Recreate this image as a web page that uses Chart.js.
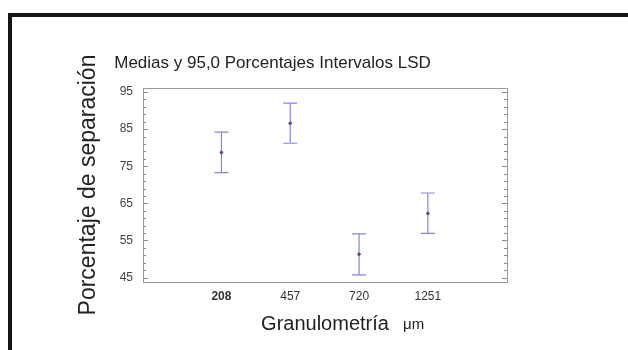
<!DOCTYPE html>
<html>
<head>
<meta charset="utf-8">
<script src="https://cdn.jsdelivr.net/npm/chart.js@4/dist/chart.umd.min.js"></script>
<style>
  body { margin: 0; background: #fff; }
  #wrap { position: relative; width: 628px; height: 350px; overflow: hidden; }
  #frame { position: absolute; left: 8px; top: 13px; width: 640px; height: 360px;
           border-top: 4px solid #151515; border-left: 4px solid #151515; }
  canvas { position: absolute; left: 0; top: 0; }
</style>
</head>
<body>
<div id="wrap">
  <div id="frame"></div>
  <canvas id="lsdChart" width="628" height="350"></canvas>
</div>
<script>
const categories = ['208', '457', '720', '1251'];
const means = [78.7, 86.6, 51.3, 62.3];
const lower = [73.3, 81.2, 45.7, 56.9];
const upper = [84.2, 92.0, 56.8, 67.8];
const yTicks = [45, 55, 65, 75, 85, 95];
const yMinorTicks = [47, 49, 51, 53, 57, 59, 61, 63, 67, 69, 71, 73, 77, 79, 81, 83, 87, 89, 91, 93];

const barColor = '#8585e6';
const font = 'Liberation Sans, Arial, sans-serif';

// error bars from lower/upper through the scales
const errorBars = {
    id: 'errorBars',
    beforeDatasetsDraw(chart) {
        let ctx = chart.ctx;
        let xs = chart.scales.x;
        let ys = chart.scales.y;
        ctx.save();
        ctx.strokeStyle = barColor;
        ctx.lineWidth = 1.2;
        for (let i = 0; i < categories.length; i++) {
            let x = xs.getPixelForValue(i);
            let yLo = ys.getPixelForValue(lower[i]);
            let yHi = ys.getPixelForValue(upper[i]);
            ctx.beginPath();
            ctx.moveTo(x, yLo);
            ctx.lineTo(x, yHi);
            ctx.moveTo(x - 7, yLo);
            ctx.lineTo(x + 7, yLo);
            ctx.moveTo(x - 7, yHi);
            ctx.lineTo(x + 7, yHi);
            ctx.stroke();
        }
        ctx.restore();
    }
};

// plot frame, inner ticks, title and unit
const decorations = {
    id: 'decorations',
    afterDraw(chart) {
        let ctx = chart.ctx;
        let a = chart.chartArea;
        let ys = chart.scales.y;
        ctx.save();
        ctx.strokeStyle = '#9a9a9a';
        ctx.lineWidth = 1;
        ctx.strokeRect(a.left + 0.5, a.top + 0.5, a.right - a.left, a.bottom - a.top);

        ctx.strokeStyle = '#8a8a8a';
        ctx.beginPath();
        yTicks.forEach(function (v) {
            let y = Math.round(ys.getPixelForValue(v)) + 0.5;
            ctx.moveTo(a.left, y); ctx.lineTo(a.left + 5, y);
            ctx.moveTo(a.right, y); ctx.lineTo(a.right - 5, y);
        });
        yMinorTicks.forEach(function (v) {
            let y = Math.round(ys.getPixelForValue(v)) + 0.5;
            ctx.moveTo(a.left, y); ctx.lineTo(a.left + 3, y);
            ctx.moveTo(a.right, y); ctx.lineTo(a.right - 3, y);
        });
        ctx.stroke();

        ctx.fillStyle = '#222';
        ctx.textAlign = 'center';
        ctx.textBaseline = 'middle';
        ctx.font = '17px ' + font;
        ctx.fillText('Medias y 95,0 Porcentajes Intervalos LSD', 272.5, 63);

        ctx.textAlign = 'left';
        ctx.font = '15px ' + font;
        ctx.fillText('μm', 403, 325);
        ctx.restore();
    }
};

let lsdCtx = document.getElementById('lsdChart').getContext('2d');

let lsdChart = new Chart(lsdCtx, {
    type: 'scatter',
    data: {
        datasets: [{
            data: means.map(function (m, i) { return { x: i, y: m }; }),
            backgroundColor: '#6b3f8f',
            borderColor: '#6b3f8f',
            pointRadius: 1.3,
            pointHoverRadius: 1.3,
        }]
    },
    options: {
        responsive: false,
        animation: false,
        layout: {
            padding: { left: 71, top: 88, right: 121, bottom: 10 }
        },
        plugins: {
            legend: { display: false },
            tooltip: { enabled: false }
        },
        scales: {
            x: {
                type: 'linear',
                min: -1.14,
                max: 4.15,
                afterBuildTicks: function (scale) {
                    scale.ticks = categories.map(function (c, i) { return { value: i }; });
                },
                afterFit: function (scale) { scale.height = 58; },
                grid: { display: false, drawTicks: false },
                border: { display: false },
                ticks: {
                    padding: 7,
                    color: '#333',
                    font: function (c) {
                        return { family: font, size: 12, weight: c.index === 0 ? 'bold' : 'normal' };
                    },
                    callback: function (value) { return categories[value]; }
                },
                title: {
                    display: true,
                    text: 'Granulometría',
                    color: '#222',
                    font: { family: font, size: 20 },
                    padding: { top: 4, bottom: 4 }
                }
            },
            y: {
                min: 43.8,
                max: 96.1,
                afterBuildTicks: function (scale) {
                    scale.ticks = yTicks.map(function (v) { return { value: v }; });
                },
                afterFit: function (scale) { scale.width = 72; },
                grid: { display: false, drawTicks: false },
                border: { display: false },
                ticks: {
                    padding: 10,
                    color: '#444',
                    font: { family: font, size: 12 }
                },
                title: {
                    display: true,
                    text: 'Porcentaje de separación',
                    color: '#222',
                    font: { family: font, size: 23 },
                    padding: { top: 4, bottom: 4 }
                }
            }
        }
    },
    plugins: [errorBars, decorations]
});
</script>
</body>
</html>
